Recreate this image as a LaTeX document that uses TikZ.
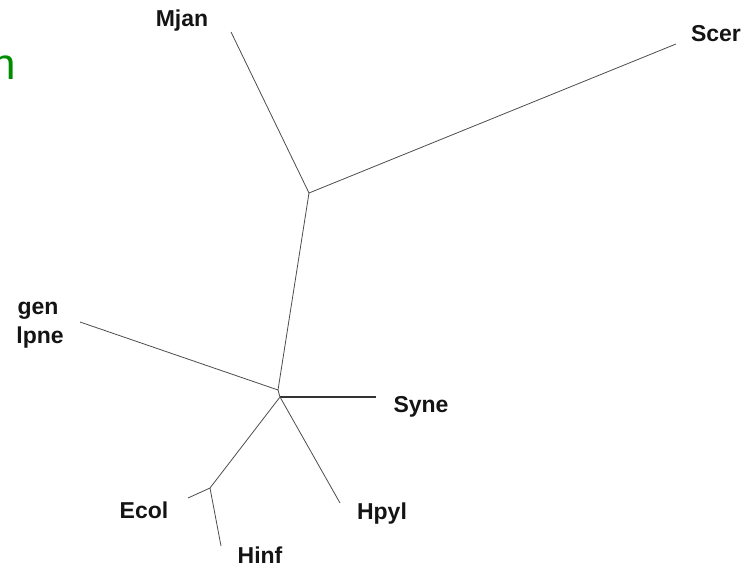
\documentclass[tikz,border=0pt]{standalone}
\usepackage{fontspec}
\setmainfont{Liberation Sans}
\usetikzlibrary{positioning}
\definecolor{titlegreen}{RGB}{0,140,0}

\begin{document}
\begin{tikzpicture}[
  x=1pt, y=-1pt,
  taxon/.style={font=\bfseries\fontsize{23}{25}\selectfont, text=black!92, inner sep=0pt},
  branch/.style={draw=black!70, line width=0.8pt},
  strong/.style={draw=black!80, line width=1.3pt}
]
  \useasboundingbox (0,0) rectangle (746,569);
  % clipped title at the left edge
  \node[font=\fontsize{44}{44}\selectfont, text=titlegreen, inner sep=0pt, anchor=east] (title) at (16,68) {n};
  % inner nodes of the tree
  \coordinate (top) at (309,193);
  \coordinate (mid) at (278,390);
  \coordinate (low) at (280,397);
  \coordinate (ent) at (210,488);
  % tips
  \coordinate (tMjan) at (231,32);
  \coordinate (tScer) at (676,44);
  \coordinate (tMyco) at (80,322);
  \coordinate (tSyne) at (376,397);
  \coordinate (tHpyl) at (340,503);
  \coordinate (tEcol) at (188,498);
  \coordinate (tHinf) at (221,546);
  % labels
  \node[taxon] (Mjan) at (182,21) {Mjan};
  \node[taxon] (Scer) at (716,34) {Scer};
  \node[taxon] (Mgen) at (38,311) {gen};
  \node[taxon] (Mpne) at (40,338) {lpne};
  \node[taxon] (Syne) at (421,407) {Syne};
  \node[taxon] (Hpyl) at (382,514) {Hpyl};
  \node[taxon] (Ecol) at (144,510) {Ecol};
  \node[taxon] (Hinf) at (260,555) {Hinf};
  % branches
  \draw[branch] (tMjan) -- (top) -- (tScer);
  \draw[branch] (top) -- (mid) -- (tMyco);
  \draw[branch] (mid) -- (low);
  \draw[strong] (low) -- (tSyne);
  \draw[branch] (low) -- (tHpyl);
  \draw[branch] (low) -- (ent) -- (tEcol);
  \draw[branch] (ent) -- (tHinf);
\end{tikzpicture}
\end{document}
